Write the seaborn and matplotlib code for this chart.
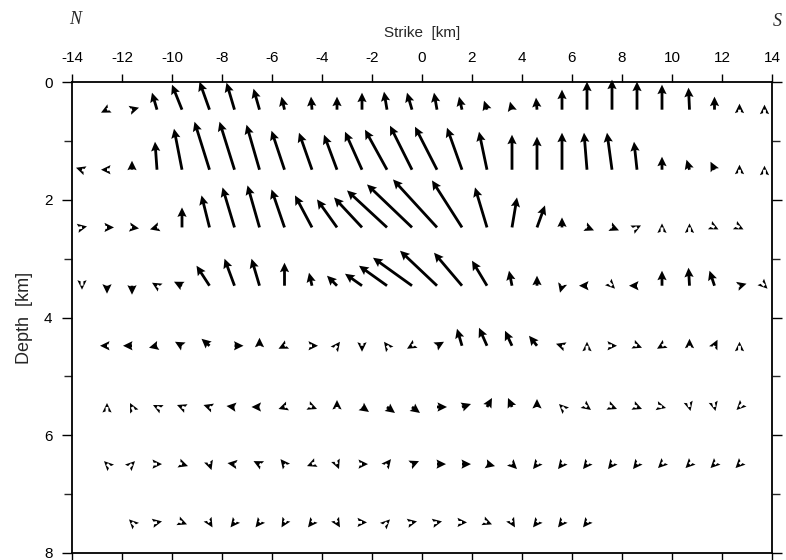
import numpy as np
import matplotlib
matplotlib.use("Agg")
import matplotlib.pyplot as plt
import seaborn as sns
from matplotlib.ticker import MultipleLocator

# Strike positions of the sub-fault centres (km)
strike_grid = [-13.6, -12.6, -11.6, -10.6, -9.6, -8.5, -7.5, -6.5, -5.5, -4.4,
               -3.4, -2.4, -1.4, -0.4, 0.6, 1.6, 2.6, 3.6, 4.6, 5.6,
               6.6, 7.6, 8.6, 9.6, 10.7, 11.7, 12.7, 13.7]

# Depth of each row (km) and index of its first strike position
row_depths = [0.47, 1.49, 2.47, 3.46, 4.48, 5.52, 6.49, 7.48]
row_first = [1, 0, 0, 0, 1, 1, 1, 2]

# Slip components (along strike u, up-dip v)
u_row1 = [-0.6, 0.7, -0.5, -1.0, -1.0, -0.8, -0.6, -0.3, -0.1, 0.0, 0.0, -0.3, -0.5, -0.3,
          -0.3, -0.3, -0.2, -0.1, 0.0, 0.0, 0.0, 0.0, 0.0, -0.1, 0.0, 0.0, 0.0]
v_row1 = [-0.3, 0.2, 1.7, 2.5, 2.8, 2.7, 2.1, 1.3, 1.3, 1.3, 1.7, 1.8, 1.7, 1.7,
          1.3, 0.9, 0.8, 1.2, 2.0, 2.8, 3.0, 2.8, 2.5, 2.2, 1.3, 0.6, 0.5]

u_row2 = [-0.6, -0.6, 0.0, -0.2, -0.8, -1.5, -1.5, -1.3, -1.3, -1.3, -1.3, -1.7, -2.2, -2.2,
          -2.2, -1.5, -0.8, 0.0, 0.0, 0.0, -0.3, -0.5, -0.3, 0.0, -0.3, -0.4, 0.0, 0.0]
v_row2 = [0.2, 0.0, 0.9, 2.8, 4.1, 4.8, 4.8, 4.5, 3.9, 3.7, 3.5, 3.8, 4.0, 4.4,
          4.3, 4.2, 3.8, 3.5, 3.3, 3.7, 3.7, 3.7, 2.8, 1.3, 1.0, 0.8, 0.5, 0.4]

u_row3 = [0.5, 0.7, 0.7, -0.7, 0.0, -0.8, -1.2, -1.2, -1.3, -1.7, -2.0, -2.8, -4.0, -4.5,
          -4.4, -3.0, -1.2, 0.5, 0.8, 0.0, 0.7, 0.7, 0.4, 0.0, 0.0, 0.4, 0.4]
v_row3 = [0.1, 0.0, -0.1, -0.2, 2.0, 3.2, 4.0, 4.2, 3.8, 3.2, 2.8, 3.0, 3.7, 4.3,
          4.8, 4.7, 4.0, 3.0, 2.2, 1.0, -0.3, -0.3, 0.2, 0.4, 0.4, -0.2, -0.2]

u_row4 = [0.0, 0.0, 0.0, -0.5, -0.8, -1.3, -1.0, -0.8, 0.0, -0.3, -1.0, -1.7, -2.8, -3.9,
          -3.7, -2.8, -1.5, -0.3, 0.0, -0.2, -0.8, 0.3, -0.8, 0.0, -0.1, -0.5, 0.7, 0.3]
v_row4 = [-0.4, -0.8, -0.9, 0.3, 0.4, 2.0, 2.7, 2.7, 2.3, 1.3, 1.0, 1.2, 2.0, 2.8,
          3.5, 3.3, 2.5, 1.5, 1.0, -0.7, 0.0, -0.3, 0.0, 1.5, 1.8, 1.5, 0.2, -0.3]

u_row5 = [-0.7, -0.9, -0.8, -0.7, -0.8, 0.9, 0.0, -0.6, 0.6, 0.3, 0.0, -0.3, -0.5,
          0.7, -0.5, -0.8, -0.7, -0.8, -0.6, 0.0, 0.5, 0.5, -0.5, 0.0, 0.3, 0.0]
v_row5 = [0.0, 0.0, -0.2, 0.4, 0.7, 0.0, 0.8, -0.3, 0.0, 0.4, -0.6, 0.4, -0.3,
          0.4, 1.7, 1.8, 1.5, 1.0, 0.2, 0.4, 0.0, -0.2, -0.3, 0.7, 0.6, 0.4]

u_row6 = [0.0, -0.2, -0.4, -0.5, -0.6, -0.8, -0.8, -0.6, 0.5, 0.0, 0.7, 0.8, 0.8,
          1.0, 0.9, 0.5, -0.4, 0.0, -0.3, 0.4, 0.5, 0.5, 0.4, 0.1, 0.1, -0.3]
v_row6 = [0.4, 0.4, 0.2, 0.2, 0.2, 0.1, 0.0, -0.2, -0.2, 0.7, -0.5, -0.6, -0.6,
          0.0, 0.3, 0.9, 0.9, 0.8, 0.3, -0.3, -0.2, -0.2, -0.1, -0.4, -0.4, -0.3]

u_row7 = [-0.3, 0.3, 0.5, 0.6, 0.2, -0.7, -0.6, -0.4, -0.5, 0.2, 0.6, 0.4, 0.7,
          0.9, 0.9, 0.8, 0.5, -0.4, -0.4, -0.4, -0.4, -0.4, -0.4, -0.4, -0.4, -0.4]
v_row7 = [0.3, 0.3, 0.0, -0.2, -0.6, 0.1, 0.3, 0.5, -0.2, -0.5, 0.0, 0.5, 0.3,
          0.0, 0.0, -0.2, -0.5, -0.5, -0.5, -0.5, -0.5, -0.5, -0.4, -0.4, -0.4, -0.4]

u_row8 = [-0.3, 0.5, 0.5, 0.3, -0.4, -0.4, -0.3, -0.4, 0.3, 0.5, 0.3, 0.5, 0.5,
          0.5, 0.5, 0.3, -0.4, -0.4, -0.4]
v_row8 = [0.3, 0.1, -0.2, -0.5, -0.5, -0.5, -0.5, -0.5, -0.5, 0.0, 0.3, 0.1, 0.1,
          0.0, -0.2, -0.5, -0.5, -0.5, -0.5]

u_rows = [u_row1, u_row2, u_row3, u_row4, u_row5, u_row6, u_row7, u_row8]
v_rows = [v_row1, v_row2, v_row3, v_row4, v_row5, v_row6, v_row7, v_row8]

sns.set_style("ticks")
plt.rcParams['font.family'] = ['Liberation Sans', 'DejaVu Sans']
plt.rcParams['axes.unicode_minus'] = False

W, H = 786, 560
fig = plt.figure(figsize=(W / 100, H / 100), dpi=100)
ax = fig.add_axes([72 / W, 1 - 553 / H, 700 / W, 471 / H])

for depth, k0, u, v in zip(row_depths, row_first, u_rows, v_rows):
    xs = strike_grid[k0:k0 + len(u)]
    ys = [depth] * len(u)
    q = ax.quiver(xs, ys, u, v, angles='uv', scale_units='dots', scale=0.1,
                  units='dots', width=2.8, headwidth=3.3, headlength=3.4,
                  headaxislength=3.0, pivot='tail', color='black',
                  minshaft=0, minlength=0)
    q.set_clip_on(False)

ax.set_xlim(-14, 14)
ax.set_ylim(8, 0)
ax.xaxis.set_major_locator(MultipleLocator(2))
ax.yaxis.set_major_locator(MultipleLocator(2))
ax.yaxis.set_minor_locator(MultipleLocator(1))
ax.xaxis.tick_top()
ax.xaxis.set_label_position('top')
ax.tick_params(axis='x', which='major', top=True, bottom=True, labeltop=True,
               labelbottom=False, direction='out', length=6, width=1.0,
               pad=6, labelsize=11, colors='black')
ax.tick_params(axis='y', which='major', left=True, right=True, labelleft=True,
               labelright=False, direction='out', length=7, width=1.0,
               pad=7, labelsize=11, colors='black')
ax.tick_params(axis='y', which='minor', left=True, right=True,
               direction='out', length=6, width=1.0)
for s in ax.spines.values():
    s.set_linewidth(1.3)
    s.set_color('black')

ax.set_xlabel('Strike  [km]', fontsize=11, labelpad=10)
ax.set_ylabel('Depth  [km]', fontsize=13, labelpad=8)

fig.text(75 / W, 1 - 20 / H, 'N', family=['Liberation Serif', 'DejaVu Serif'],
         style='italic', fontsize=13, ha='center', va='center')
fig.text(777 / W, 1 - 22 / H, 'S', family=['Liberation Serif', 'DejaVu Serif'],
         style='italic', fontsize=13, ha='center', va='center')

fig.savefig('out.png', dpi=100)
